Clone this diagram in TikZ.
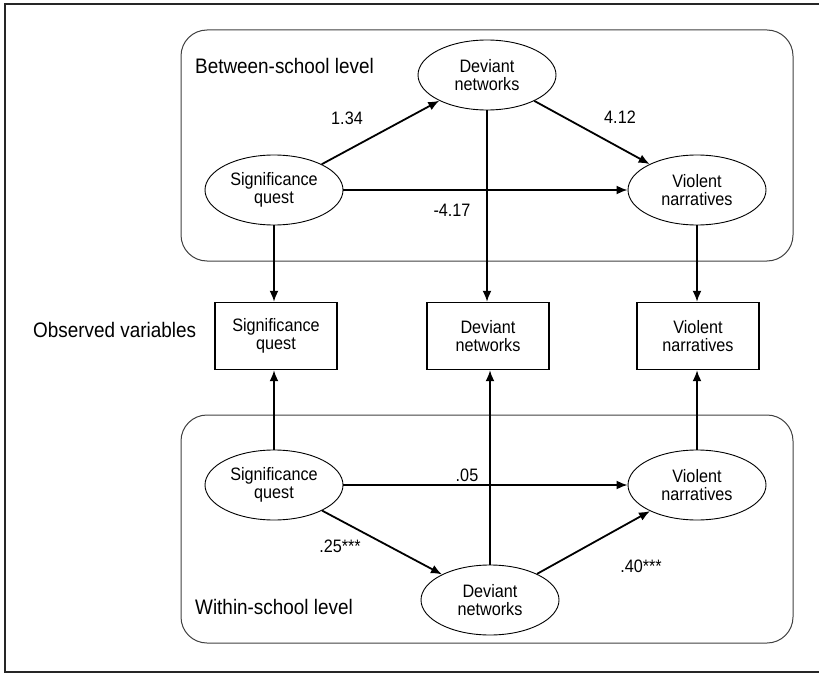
\documentclass[tikz,border=0pt]{standalone}
\usepackage{fontspec}
\setmainfont[FakeStretch=0.9]{Liberation Sans}
\usepackage{tikz}
\usetikzlibrary{arrows.meta,shapes.geometric}

\begin{document}
\begin{tikzpicture}[x=1pt,y=-1pt]
\tikzstyle{latent}=[draw,ellipse,line width=0.9pt,minimum width=138pt,minimum height=70pt,inner sep=0pt,align=center,font=\fontsize{18}{18}\selectfont]
\tikzstyle{observed}=[draw,rectangle,line width=1.4pt,minimum width=122pt,minimum height=67pt,inner sep=0pt,align=center,font=\fontsize{18}{18}\selectfont]
\tikzstyle{level}=[draw=black!75,line width=1pt,rounded corners=26pt]
\tikzstyle{path}=[line width=1.8pt,-{Latex[length=11pt,width=9pt]}]
\tikzstyle{coef}=[font=\fontsize{18}{18}\selectfont,inner sep=0pt]
\tikzstyle{tag}=[font=\fontsize{21}{21}\selectfont,inner sep=0pt,anchor=west]

\useasboundingbox (0,0) rectangle (819,674);
\draw[line width=1.4pt,black!85] (819,4) -- (5,4) -- (5,672) -- (819,672);

% the two levels
\draw[level] (181,30) rectangle (793,261);
\draw[level] (181,415) rectangle (793,643);
\node[tag] (between) at (195,66) {Between-school level};
\node[tag] (within) at (195,607) {Within-school level};
\node[tag] (obs) at (33,330) {Observed variables};

% between
\node[latent] (bsig) at (274,190) {Significance\\quest};
\node[latent] (bdev) at (487,75) {Deviant\\networks};
\node[latent] (bvio) at (697,190) {Violent\\narratives};

% observed
\node[observed] (osig) at (276,336) {Significance\\quest};
\node[observed] (odev) at (488,336) {Deviant\\networks};
\node[observed] (ovio) at (698,336) {Violent\\narratives};

% within
\node[latent] (wsig) at (274,485) {Significance\\quest};
\node[latent] (wdev) at (490,600) {Deviant\\networks};
\node[latent] (wvio) at (697,485) {Violent\\narratives};

\draw[path] (bsig) -- (bdev);
\draw[path] (bdev) -- (bvio);
\draw[path] (bsig) -- (bvio);
\draw[path] (bsig.south) -- (bsig.south |- osig.north);
\draw[path] (bdev.south) -- (bdev.south |- odev.north);
\draw[path] (bvio.south) -- (bvio.south |- ovio.north);

\draw[path] (wsig) -- (wdev);
\draw[path] (wdev) -- (wvio);
\draw[path] (wsig) -- (wvio);
\draw[path] (wsig.north) -- (wsig.north |- osig.south);
\draw[path] (wdev.north) -- (wdev.north |- odev.south);
\draw[path] (wvio.north) -- (wvio.north |- ovio.south);

\node[coef] (c134) at (347,118) {1.34};
\node[coef] (c412) at (620,117) {4.12};
\node[coef] (c417) at (452,210) {-4.17};
\node[coef] (c05) at (467,475) {.05};
\node[coef] (c25) at (340,546) {.25***};
\node[coef] (c40) at (641,566) {.40***};
\end{tikzpicture}
\end{document}
